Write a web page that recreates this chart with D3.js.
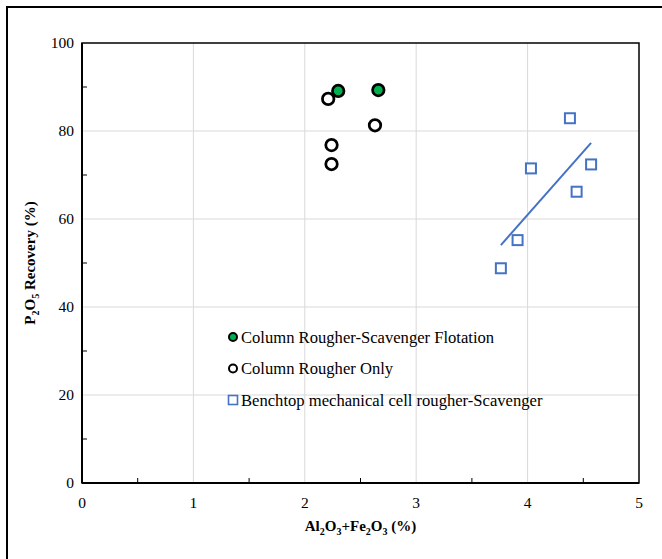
<!DOCTYPE html>
<meta charset="utf-8">
<style>
body { margin: 0; background: #fff; }
svg { display: block; }
text { font-family: 'Liberation Serif', 'DejaVu Serif', serif; }
.tick-label { font-size: 15.5px; fill: #000; }
.axis-title { font-size: 15px; font-weight: bold; fill: #000; }
.legend text { font-size: 16.6px; fill: #000; }
</style>
<body>
<div id="chart"></div>
<script src="https://cdn.jsdelivr.net/npm/d3@7"></script>
<script>
// column rougher-scavenger flotation (green filled circles)
var scavX = [2.30, 2.66];
var scavY = [89.1, 89.3];
// column rougher only (open circles)
var roughX = [2.21, 2.63, 2.24, 2.24];
var roughY = [87.3, 81.3, 76.8, 72.5];
// benchtop mechanical cell (open squares)
var benchX = [3.76, 3.91, 4.03, 4.38, 4.44, 4.57];
var benchY = [48.8, 55.2, 71.5, 82.9, 66.2, 72.4];

var xTicks = [0, 1, 2, 3, 4, 5];
var yTicks = [0, 20, 40, 60, 80, 100];
var legendLabels = ["Column Rougher-Scavenger Flotation", "Column Rougher Only", "Benchtop mechanical cell rougher-Scavenger"];

var W = 662, H = 559;
var margin = {top: 43, right: 23, bottom: 76, left: 82};
var width = W - margin.left - margin.right,
    height = H - margin.top - margin.bottom;

var svg = d3.select("#chart").append("svg")
    .attr("width", W)
    .attr("height", H)
    .attr("font-family", "Liberation Serif, serif");

// outer frame
svg.append("rect")
    .attr("x", 7).attr("y", 7)
    .attr("width", 700).attr("height", 600)
    .attr("fill", "none").attr("stroke", "#000").attr("stroke-width", 2);

var g = svg.append("g")
    .attr("transform", "translate(" + margin.left + "," + margin.top + ")");

var x = d3.scaleLinear().domain([0, 5]).range([0, width]);
var y = d3.scaleLinear().domain([0, 100]).range([height, 0]);

// grid
g.selectAll(".gx").data(xTicks.slice(1, -1)).enter().append("line")
    .attr("x1", d => x(d)).attr("x2", d => x(d))
    .attr("y1", 0).attr("y2", height)
    .attr("stroke", "#d9d9d9").attr("stroke-width", 1);
g.selectAll(".gy").data(yTicks.slice(1, -1)).enter().append("line")
    .attr("x1", 0).attr("x2", width)
    .attr("y1", d => y(d)).attr("y2", d => y(d))
    .attr("stroke", "#d9d9d9").attr("stroke-width", 1);

// minor ticks (inside)
g.selectAll(".mx").data(d3.range(0.5, 5, 1)).enter().append("line")
    .attr("x1", d => x(d)).attr("x2", d => x(d))
    .attr("y1", height).attr("y2", height - 5)
    .attr("stroke", "#000").attr("stroke-width", 1);
g.selectAll(".my").data(d3.range(10, 100, 20)).enter().append("line")
    .attr("x1", 0).attr("x2", 5)
    .attr("y1", d => y(d)).attr("y2", d => y(d))
    .attr("stroke", "#000").attr("stroke-width", 1);

// plot box
g.append("rect")
    .attr("width", width).attr("height", height)
    .attr("fill", "none").attr("stroke", "#000").attr("stroke-width", 1.5);
g.append("line").attr("x1", 0).attr("x2", width)
    .attr("y1", height).attr("y2", height)
    .attr("stroke", "#000").attr("stroke-width", 2);
g.append("line").attr("x1", 0).attr("x2", 0)
    .attr("y1", 0).attr("y2", height)
    .attr("stroke", "#000").attr("stroke-width", 2);

// tick labels
g.selectAll(".xl").data(xTicks).enter().append("text")
    .attr("class", "tick-label")
    .attr("x", d => x(d)).attr("y", height + 25)
    .attr("text-anchor", "middle")
    .text(d => d);
g.selectAll(".yl").data(yTicks).enter().append("text")
    .attr("class", "tick-label")
    .attr("x", -8).attr("y", d => y(d) + 5)
    .attr("text-anchor", "end")
    .text(d => d);

// axis titles
var xt = g.append("text").attr("class", "axis-title")
    .attr("x", width / 2).attr("y", height + 48)
    .attr("text-anchor", "middle");
xt.append("tspan").text("Al");
xt.append("tspan").attr("font-size", "10px").attr("dy", 4).text("2");
xt.append("tspan").attr("dy", -4).text("O");
xt.append("tspan").attr("font-size", "10px").attr("dy", 4).text("3");
xt.append("tspan").attr("dy", -4).text("+Fe");
xt.append("tspan").attr("font-size", "10px").attr("dy", 4).text("2");
xt.append("tspan").attr("dy", -4).text("O");
xt.append("tspan").attr("font-size", "10px").attr("dy", 4).text("3");
xt.append("tspan").attr("dy", -4).text(" (%)");

var yt = g.append("text").attr("class", "axis-title")
    .attr("transform", "translate(" + (-47) + "," + (height / 2) + ") rotate(-90)")
    .attr("text-anchor", "middle");
yt.append("tspan").text("P");
yt.append("tspan").attr("font-size", "10px").attr("dy", 4).text("2");
yt.append("tspan").attr("dy", -4).text("O");
yt.append("tspan").attr("font-size", "10px").attr("dy", 4).text("5");
yt.append("tspan").attr("dy", -4).text(" Recovery (%)");

// trendline: linear least-squares fit on benchtop data
var mx = d3.mean(benchX), my = d3.mean(benchY);
var sxy = d3.sum(benchX, (v, i) => (v - mx) * (benchY[i] - my));
var sxx = d3.sum(benchX, v => (v - mx) * (v - mx));
var slope = sxy / sxx, icpt = my - slope * mx;
var tx = d3.extent(benchX);
g.append("line")
    .attr("x1", x(tx[0])).attr("y1", y(icpt + slope * tx[0]))
    .attr("x2", x(tx[1])).attr("y2", y(icpt + slope * tx[1]))
    .attr("stroke", "#4472c4").attr("stroke-width", 2);

// markers
g.selectAll(".sq").data(benchX).enter().append("rect")
    .attr("x", (d, i) => x(d) - 5).attr("y", (d, i) => y(benchY[i]) - 5)
    .attr("width", 10).attr("height", 10)
    .attr("fill", "#fff").attr("stroke", "#4472c4").attr("stroke-width", 2);
g.selectAll(".ro").data(roughX).enter().append("circle")
    .attr("cx", d => x(d)).attr("cy", (d, i) => y(roughY[i]))
    .attr("r", 5.75)
    .attr("fill", "#fff").attr("stroke", "#000").attr("stroke-width", 2.75);
g.selectAll(".sc").data(scavX).enter().append("circle")
    .attr("cx", d => x(d)).attr("cy", (d, i) => y(scavY[i]))
    .attr("r", 5.75)
    .attr("fill", "#00b050").attr("stroke", "#000").attr("stroke-width", 2.75);

// legend
var leg = svg.append("g").attr("class", "legend")
    .attr("transform", "translate(233,337)");
legendLabels.forEach(function(lab, i) {
    var row = leg.append("g").attr("transform", "translate(0," + (i * 31.5) + ")");
    if (i === 0) {
        row.append("circle").attr("r", 4).attr("fill", "#00b050")
            .attr("stroke", "#000").attr("stroke-width", 2);
    } else if (i === 1) {
        row.append("circle").attr("r", 4).attr("fill", "#fff")
            .attr("stroke", "#000").attr("stroke-width", 2);
    } else {
        row.append("rect").attr("x", -4.5).attr("y", -4.5).attr("width", 9).attr("height", 9)
            .attr("fill", "#fff").attr("stroke", "#4472c4").attr("stroke-width", 1.6);
    }
    row.append("text").attr("x", 8).attr("y", 5.5).text(lab);
});
</script>
</body>
